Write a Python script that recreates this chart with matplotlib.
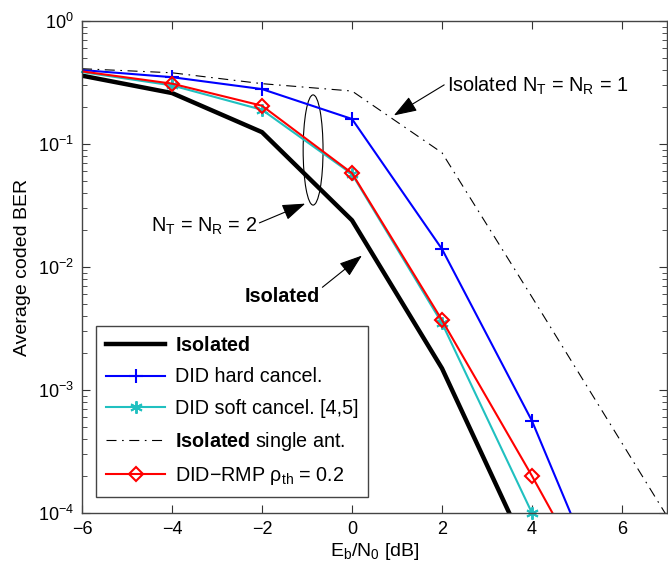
import matplotlib
matplotlib.use("Agg")
import matplotlib.pyplot as plt
from matplotlib.patches import Ellipse
from matplotlib.ticker import LogLocator, NullFormatter, FixedLocator

plt.rcParams['font.family'] = ['Liberation Sans', 'DejaVu Sans']
plt.rcParams['mathtext.fontset'] = 'custom'
plt.rcParams['mathtext.rm'] = 'Liberation Sans'
plt.rcParams['mathtext.it'] = 'Liberation Sans:italic'
plt.rcParams['mathtext.bf'] = 'Liberation Sans:bold'

# Eb/N0 grid [dB]
snr = [-6, -4, -2, 0, 2, 4, 6]
snr_iso = [-6, -4, -2, 0, 2, 4]
snr_soft = [-6, -4, -2, 0, 2, 4]
snr_single = [-6, -4, -2, 0, 2, 4, 6, 8]

# average coded BER curves
ber_isolated = [0.36, 0.26, 0.125, 0.024, 0.0015, 4.0e-5]
ber_hard = [0.40, 0.35, 0.28, 0.16, 0.014, 5.6e-4, 1.0e-5]
ber_soft = [0.385, 0.30, 0.19, 0.057, 0.0035, 1.0e-4]
ber_single = [0.41, 0.38, 0.31, 0.27, 0.085, 0.0057, 3.7e-4, 2.4e-5]
ber_rmp = [0.39, 0.31, 0.205, 0.058, 0.0037, 2.0e-4, 9.5e-6]

xticks = [-6, -4, -2, 0, 2, 4, 6]

fig = plt.figure(figsize=(6.68, 5.72), dpi=100)
ax = fig.add_axes([0.1228, 0.1031, 0.8757, 0.8600])

ax.plot(snr_iso, ber_isolated, color='k', lw=3.2, label=r'$\mathbf{Isolated}$')
ax.plot(snr, ber_hard, color='#0000ff', lw=1.5, marker='+', ms=10, mew=1.5,
        markevery=slice(1, None), label='DID hard cancel.')
ax.plot(snr_soft, ber_soft, color='#20c0c0', lw=1.5, marker=(6, 2, 0), ms=9,
        mew=1.4, markevery=slice(1, None), clip_on=False,
        label='DID soft cancel. [4,5]')
ax.plot(snr_single, ber_single, color='k', lw=0.8, ls=(0, (9, 5, 1.5, 5)),
        label=r'$\mathbf{Isolated}$ single ant.')
ax.plot(snr, ber_rmp, color='#ff0000', lw=1.5, marker='D', ms=7, mew=1.5,
        mfc='none', markevery=slice(1, None),
        label='DID\u2212RMP \u03c1$_{\\mathrm{th}}$ = 0.2')

ax.set_yscale('log')
ax.set_xlim(-6, 7)
ax.set_ylim(1e-4, 1)
ax.xaxis.set_major_locator(FixedLocator(xticks))
ax.set_xticklabels([str(t).replace('-', '\u2212') for t in xticks])
ax.yaxis.set_major_locator(LogLocator(base=10, numticks=10))
ax.yaxis.set_minor_locator(LogLocator(base=10, subs=range(2, 10), numticks=10))
ax.yaxis.set_minor_formatter(NullFormatter())

ax.tick_params(which='both', direction='in', top=True, right=True,
               labelsize=13, color='#333333')
ax.tick_params(which='major', length=6, width=0.8, pad=6)
ax.tick_params(which='minor', length=3.5, width=0.6)
for sp in ax.spines.values():
    sp.set_color('#444444')
    sp.set_linewidth(1.0)

ax.set_xlabel(r'E$_{\mathrm{b}}$/N$_{0}$ [dB]', fontsize=14, labelpad=2)
ax.set_ylabel('Average coded BER', fontsize=14)
ax.yaxis.set_label_coords(-0.088, 0.5)

# grouping ellipse around the two-antenna curves
ax.add_patch(Ellipse((0.395, 0.738), 0.034, 0.224, transform=ax.transAxes,
                     fill=False, ec='k', lw=0.8))

arrow = dict(arrowstyle='-|>,head_length=1.0,head_width=0.35', color='k',
             lw=0.8, shrinkA=0, shrinkB=0)
ax.annotate(r'Isolated N$_\mathrm{T}$ = N$_\mathrm{R}$ = 1', xy=(0.93, 0.171),
            xytext=(2.11, 0.30), fontsize=14.3, ha='left', va='center',
            arrowprops=dict(arrow, relpos=(0.0, 0.6)))
ax.annotate(r'N$_\mathrm{T}$ = N$_\mathrm{R}$ = 2', xy=(-1.04, 0.0328),
            xytext=(-2.12, 0.0215), fontsize=14.3, ha='right', va='center',
            arrowprops=dict(arrow, relpos=(1.0, 0.6)))
ax.annotate('Isolated', xy=(0.22, 0.0124), xytext=(-0.72, 0.0058),
            fontsize=14.3, fontweight='bold', ha='right', va='center',
            arrowprops=dict(arrow, relpos=(1.0, 0.85)))

leg = ax.legend(loc='lower left', bbox_to_anchor=(0.024, 0.0325),
                borderaxespad=0, fontsize=14.2, handlelength=3.0,
                handletextpad=0.5, labelspacing=0.62, borderpad=0.5,
                fancybox=False, framealpha=1)
leg.get_frame().set_edgecolor('#444444')
leg.get_frame().set_linewidth(1.0)

fig.savefig('out.png', dpi=100)
